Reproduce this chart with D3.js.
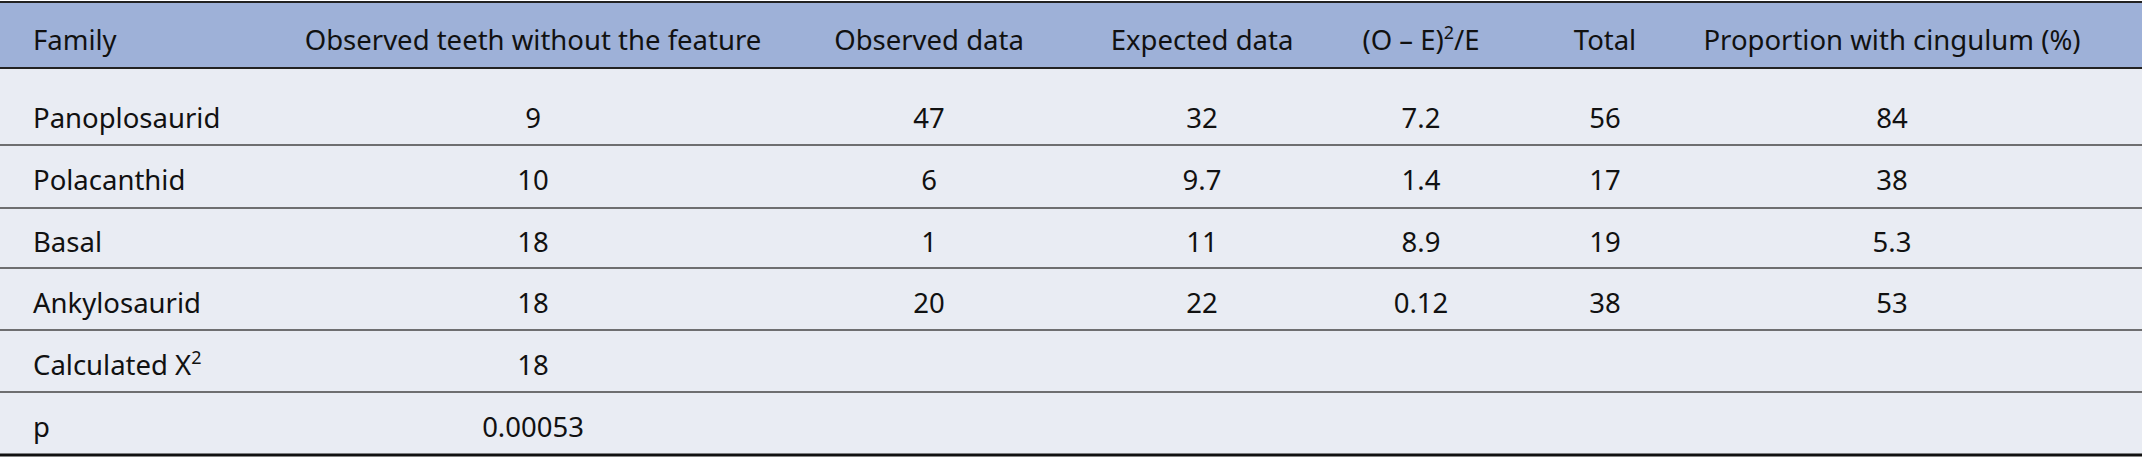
<!DOCTYPE html>
<html><head><meta charset="utf-8">
<script src="https://cdn.jsdelivr.net/npm/d3@7"></script>
<style>body{margin:0;background:#fff}</style></head>
<body><svg id="c" width="2142" height="458"></svg>
<script>
const headers = ["Family","Observed teeth without the feature","Observed data","Expected data","(O – E)²/E","Total","Proportion with cingulum (%)"];
const families = ["Panoplosaurid","Polacanthid","Basal","Ankylosaurid","Calculated X²","p"];
const withoutFeature = ["9","10","18","18","18","0.00053"];
const observed = ["47","6","1","20","",""];
const expected = ["32","9.7","11","22","",""];
const chi = ["7.2","1.4","8.9","0.12","",""];
const total = ["56","17","19","38","",""];
const proportion = ["84","38","5.3","53","",""];

const cols = [families, withoutFeature, observed, expected, chi, total, proportion];
const colX = [33, 533, 929, 1202, 1421, 1605, 1892];
const rowTop = [68, 145, 208, 268, 330, 392];
const rowBot = [145, 208, 268, 330, 392, 455];
const svg = d3.select("#c");
const font = "'Noto Sans', sans-serif", fs = 27.5;

svg.append("rect").attr("x",0).attr("y",3).attr("width",2142).attr("height",65).attr("fill","#9eb1d8");
svg.append("rect").attr("x",0).attr("y",68).attr("width",2142).attr("height",387).attr("fill","#e9ecf3");
svg.append("line").attr("x1",0).attr("x2",2142).attr("y1",2).attr("y2",2).attr("stroke","#222").attr("stroke-width",2);
svg.append("line").attr("x1",0).attr("x2",2142).attr("y1",68).attr("y2",68).attr("stroke","#222").attr("stroke-width",2);
svg.selectAll("line.r").data(rowBot.slice(0,-1)).join("line").attr("class","r")
  .attr("x1",0).attr("x2",2142).attr("y1",d=>d).attr("y2",d=>d).attr("stroke","#444").attr("stroke-width",1.3);
svg.append("line").attr("x1",0).attr("x2",2142).attr("y1",455).attr("y2",455).attr("stroke","#111").attr("stroke-width",3);

function write(t, v){
  if (v.includes("²")) {
    const [a,b] = v.split("²");
    t.append("tspan").text(a);
    t.append("tspan").attr("font-size",18).attr("dy",-11).text("2");
    if (b) t.append("tspan").attr("dy",11).text(b);
  } else t.text(v);
}
headers.forEach((h,i)=>{
  const t = svg.append("text").attr("x",colX[i]).attr("y",40).attr("dy","0.35em")
    .attr("text-anchor", i===0?"start":"middle").attr("font-family",font).attr("font-size",fs).attr("fill","#111");
  write(t,h);
});
cols.forEach((col,ci)=>{
  col.forEach((v,ri)=>{
    if(!v) return;
    const y = ri===0 ? 118 : (rowTop[ri]+rowBot[ri])/2 + 4;
    const t = svg.append("text").attr("x",colX[ci]).attr("y",y).attr("dy","0.35em")
      .attr("text-anchor", ci===0?"start":"middle").attr("font-family",font).attr("font-size",fs).attr("fill","#111");
    write(t,v);
  });
});
</script></body></html>
